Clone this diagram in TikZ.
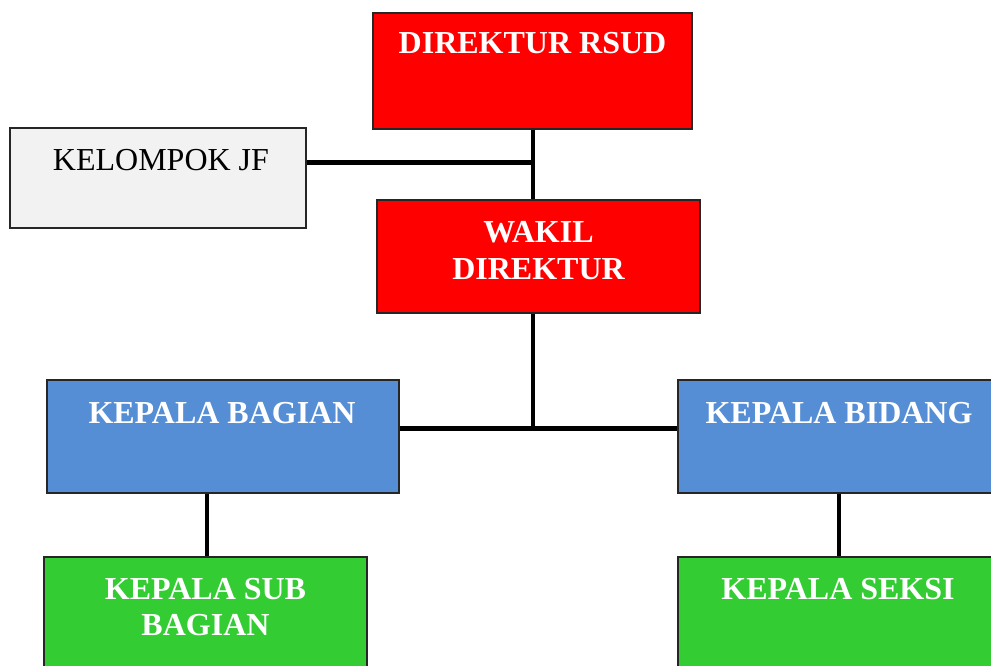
\documentclass[tikz,border=0pt]{standalone}
\usepackage{fontspec}
\setmainfont{Liberation Serif}
\begin{document}
\begin{tikzpicture}[x=1pt,y=-1pt,
  unit/.style={draw=black!85,line width=1.5pt,rectangle,inner sep=0pt},
  redbox/.style={unit,fill=red},
  bluebox/.style={unit,fill={rgb,255:red,85;green,142;blue,213}},
  greenbox/.style={unit,fill={rgb,255:red,51;green,204;blue,51}},
  greybox/.style={unit,fill={rgb,255:red,242;green,242;blue,242}},
  title/.style={anchor=base,font=\fontsize{32}{37}\selectfont\bfseries,text=white,align=center,inner sep=0pt},
  plain/.style={anchor=base,font=\fontsize{32}{37}\selectfont,text=black,inner sep=0pt},
  vline/.style={line width=4pt},
  hline/.style={line width=5pt}]
\useasboundingbox (0,0) rectangle (991,666);

% boxes
\node[redbox,minimum width=319pt,minimum height=116pt] (dir) at (532.5,71) {};
\node[greybox,minimum width=296pt,minimum height=100pt] (kjf) at (158,178) {};
\node[redbox,minimum width=323pt,minimum height=113pt] (wak) at (538.5,256.5) {};
\node[bluebox,minimum width=352pt,minimum height=113pt] (kb) at (223,436.5) {};
\node[bluebox,minimum width=322pt,minimum height=113pt] (kbid) at (839,436.5) {};
\node[greenbox,minimum width=323pt,minimum height=140pt] (ksb) at (205.5,627) {};
\node[greenbox,minimum width=322pt,minimum height=140pt] (ks) at (839,627) {};

% labels
\node[title] (dirT) at (532.5,54) {DIREKTUR RSUD};
\node[plain] (kjfT) at (161,171) {KELOMPOK JF};
\node[title] (wakT1) at (538.5,242) {WAKIL};
\node[title] (wakT2) at (538.5,279) {DIREKTUR};
\node[title] (kbT) at (222,423) {KEPALA BAGIAN};
\node[title] (kbidT) at (839,423) {KEPALA BIDANG};
\node[title] (ksbT1) at (205.5,599) {KEPALA SUB};
\node[title] (ksbT2) at (205.5,635) {BAGIAN};
\node[title] (ksT) at (838,599) {KEPALA SEKSI};

% junctions
\coordinate (j1) at (532.5,163);
\coordinate (j2) at (532.5,428);

% connectors
\draw[vline] (dir.south) -- (dir.south |- wak.north);
\draw[hline] (kjf.east |- j1) -- (j1);
\draw[vline] (wak.south -| dir.south) -- ([yshift=2.5pt]j2);
\draw[hline] (kb.east |- j2) -- (kbid.west |- j2);
\draw[vline] (kb.south -| 207,0) -- (ksb.north -| 207,0);
\draw[vline] (kbid.south) -- (kbid.south |- ks.north);
\end{tikzpicture}
\end{document}
